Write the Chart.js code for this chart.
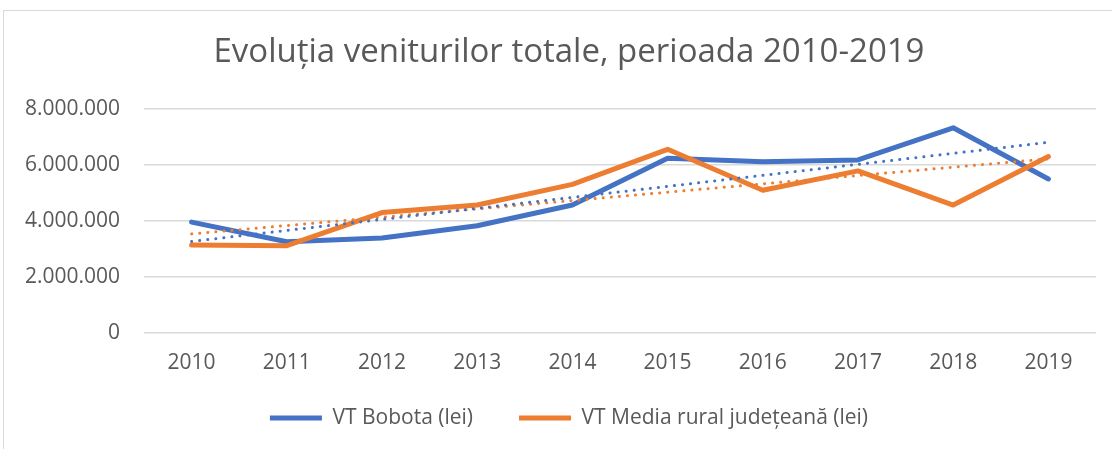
<!DOCTYPE html>
<html>
<head>
<meta charset="utf-8">
<script src="https://cdn.jsdelivr.net/npm/chart.js@4.4.1/dist/chart.umd.min.js"></script>
<style>
  html, body { margin: 0; padding: 0; background: #fff; }
  #wrap { width: 1112px; height: 449px; position: relative; }
</style>
</head>
<body>
<div id="wrap"><canvas id="chart" width="1112" height="449"></canvas></div>
<script>
// ani pe axa X
const years = ['2010', '2011', '2012', '2013', '2014', '2015', '2016', '2017', '2018', '2019'];
// venituri totale (lei)
const vtBobota = [3960000, 3260000, 3390000, 3830000, 4570000, 6240000, 6120000, 6180000, 7330000, 5500000];
const vtMedia = [3140000, 3120000, 4300000, 4570000, 5310000, 6560000, 5100000, 5790000, 4570000, 6300000];
// linii de tendinta: valoare la inceput (2010) si la sfarsit (2019)
const trendBobota = [3270000, 6810000];
const trendMedia = [3540000, 6220000];
const yTicks = [0, 2000000, 4000000, 6000000, 8000000];

const FONT = '"Open Sans", sans-serif';
const BLUE = '#4472C4';
const ORANGE = '#ED7D31';
const TEXT = '#595959';

// trend -> serie cu capetele, restul null
function trendSeries(ends) {
    return years.map((_, i) => i === 0 ? ends[0] : (i === years.length - 1 ? ends[1] : null));
}

// 8000000 -> 8.000.000
function fmt(v) {
    return String(v).replace(/\B(?=(\d{3})+(?!\d))/g, '.');
}

// chenarul exterior al graficului
const framePlugin = {
    id: 'frame',
    beforeDraw(chart) {
        const c = chart.ctx;
        c.save();
        c.strokeStyle = '#D9D9D9';
        c.lineWidth = 1;
        c.strokeRect(3.5, 10.5, 1200, 600);
        c.restore();
    }
};

// titlul si legenda sunt centrate putin mai la dreapta in original
const shiftPlugin = {
    id: 'shift',
    afterLayout(chart) {
        const dx = 10;
        [chart.titleBlock, chart.legend].forEach(b => {
            if (!b) return;
            b.left += dx;
            b.right += dx;
        });
        chart.legend.top -= 10.5;
        chart.legend.bottom -= 10.5;
    }
};

new Chart(document.getElementById('chart'), {
    type: 'line',
    data: {
        labels: years,
        datasets: [
            {
                label: 'VT Bobota (lei)',
                data: vtBobota,
                borderColor: BLUE,
                backgroundColor: BLUE,
                borderWidth: 5,
                borderCapStyle: 'round',
                borderJoinStyle: 'round',
                pointRadius: 0,
                tension: 0,
                order: 2
            },
            {
                label: 'VT Media rural județeană (lei)',
                data: vtMedia,
                borderColor: ORANGE,
                backgroundColor: ORANGE,
                borderWidth: 5,
                borderCapStyle: 'round',
                borderJoinStyle: 'round',
                pointRadius: 0,
                tension: 0,
                order: 1
            },
            {
                label: 'trend1',
                data: trendSeries(trendBobota),
                borderColor: BLUE,
                borderWidth: 3,
                borderDash: [0.1, 8],
                borderCapStyle: 'round',
                pointRadius: 0,
                spanGaps: true,
                order: 0
            },
            {
                label: 'trend2',
                data: trendSeries(trendMedia),
                borderColor: ORANGE,
                borderWidth: 3,
                borderDash: [0.1, 8],
                borderCapStyle: 'round',
                pointRadius: 0,
                spanGaps: true,
                order: 0
            }
        ]
    },
    options: {
        responsive: false,
        animation: false,
        layout: { padding: { top: 10, left: 22, right: 16, bottom: 0 } },
        plugins: {
            title: {
                display: true,
                text: 'Evoluția veniturilor totale, perioada 2010-2019',
                color: TEXT,
                font: { family: FONT, size: 33, weight: 'normal', lineHeight: 1.2 },
                padding: { top: 23.2, bottom: 36.2 }
            },
            legend: {
                position: 'bottom',
                labels: {
                    filter: item => !item.text.startsWith('trend'),
                    sort: (a, b) => a.datasetIndex - b.datasetIndex,
                    usePointStyle: true,
                    pointStyle: 'line',
                    pointStyleWidth: 52,
                    boxHeight: 18,
                    color: TEXT,
                    font: { family: FONT, size: 21 },
                    padding: 46
                }
            },
            tooltip: { enabled: false }
        },
        scales: {
            x: {
                offset: true,
                grid: { display: false, drawTicks: false },
                border: { display: false },
                ticks: {
                    color: TEXT,
                    font: { family: FONT, size: 21 },
                    padding: 17,
                    maxRotation: 0
                },
                afterFit(scale) { scale.height = 39; }
            },
            y: {
                min: 0,
                max: 8000000,
                afterBuildTicks(scale) { scale.ticks = yTicks.map(v => ({ value: v })); },
                grid: { color: '#D9D9D9', lineWidth: 1.5, drawTicks: false },
                border: { display: false },
                ticks: {
                    color: TEXT,
                    font: { family: FONT, size: 21 },
                    padding: 24,
                    callback: v => fmt(v)
                },
                afterFit(scale) { scale.width = 122; }
            }
        }
    },
    plugins: [framePlugin, shiftPlugin]
});
</script>
</body>
</html>
